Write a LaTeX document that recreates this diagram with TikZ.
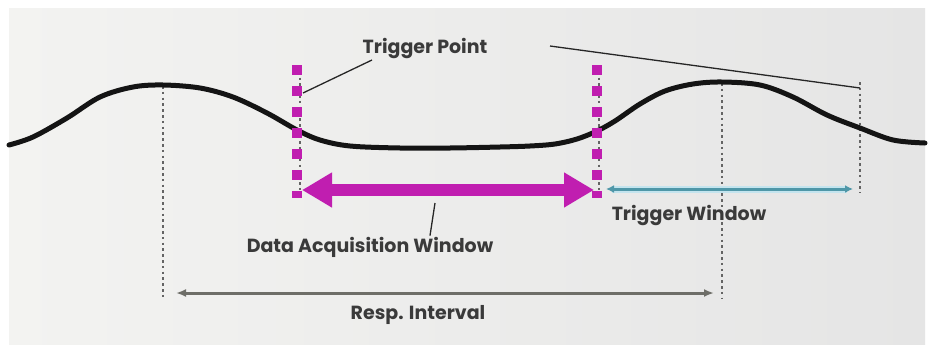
\documentclass[tikz,border=0pt]{standalone}
\usepackage{fontspec}
\setmainfont{Poppins}
\usetikzlibrary{arrows.meta}
\definecolor{paperL}{HTML}{F3F3F1}
\definecolor{paperR}{HTML}{E5E5E5}
\definecolor{mag}{HTML}{C01EB0}
\definecolor{teal}{HTML}{4F97A8}
\definecolor{tealhalo}{HTML}{C4E4EE}
\definecolor{dotgrey}{HTML}{646464}
\definecolor{arrgrey}{HTML}{6E6E68}
\definecolor{txt}{HTML}{3A3A3A}
\tikzset{
  wave/.style={line width=5pt, line cap=round, black!92},
  dotline/.style={dotgrey, line width=2.6pt, dash pattern=on 2.6pt off 3.2pt},
  magdash/.style={mag, line width=10pt, dash pattern=on 10pt off 11pt},
  magarrow/.style={mag, line width=12pt, {Triangle[length=30pt,width=33pt]}-{Triangle[length=30pt,width=33pt]}},
  tealarrow/.style={teal, line width=3pt, {Latex[length=8pt,width=8pt]}-{Latex[length=8pt,width=8pt]}},
  greyarrow/.style={arrgrey, line width=3pt, {Latex[length=10pt,width=8pt]}-{Latex[length=10pt,width=8pt]}},
  leader/.style={black!85, line width=1.3pt},
  lbl/.style={text=txt, font=\fontsize{19}{22}\selectfont\bfseries, inner sep=1pt}
}
\begin{document}
\begin{tikzpicture}[x=1pt,y=-1pt]
\useasboundingbox (0,0) rectangle (929,351);
\fill[white] (0,0) rectangle (929,351);
\shade[left color=paperL, right color=paperR] (9,8) rectangle (925,344);
% dotted guide lines
\draw[dotline] (163,86) -- (163,300);
\draw[dotline] (722,83) -- (722,298);
\draw[dotline] (860,82) -- (860,193);
\draw[dotline, line width=1.8pt] (300,66) -- (300,193);
\draw[dotline, line width=1.8pt] (599,66) -- (599,193);
% waveform
\draw[wave] plot[smooth, tension=0.55] coordinates {
 (9,145) (33,137) (67,118) (100,97) (133,87) (163,85) (200,88) (233,97)
 (267,113) (297,130) (320,140) (350,146) (400,148) (450,148) (500,147)
 (530,146) (555,144) (577,139)
 (597,131) (615,121) (640,104) (665,91) (693,84) (722,82) (760,85)
 (793,97) (827,115) (860,128) (893,140) (925,143)};
% magenta window bounds
\draw[magdash] (297,65) -- (297,198);
\draw[magdash] (597,65) -- (597,198);
% coordinates
\coordinate (daL) at (302,190);
\coordinate (daR) at (594,190);
\coordinate (twL) at (606,189);
\coordinate (twR) at (853,189);
\coordinate (riL) at (176,293);
\coordinate (riR) at (714,293);
\coordinate (tpEnd) at (303,93);
\coordinate (slA) at (550,46);
\coordinate (slB) at (860,88);
\coordinate (daTop) at (435,203);
% labels
\node[lbl] (tp) at (425,49) {Trigger Point};
\node[lbl] (daw) at (370,247) {Data Acquisition Window};
\node[lbl] (tw) at (689,215) {Trigger Window};
\node[lbl] (ri) at (418,315) {Resp. Interval};
% arrows
\draw[magarrow] (daL) -- (daR);
\draw[tealhalo, line width=7pt] ([xshift=6pt]twL) -- ([xshift=-6pt]twR);
\draw[tealarrow] (twL) -- (twR);
\draw[greyarrow] (riL) -- (riR);
% leaders
\coordinate (tpS) at (372,60);
\draw[leader] (tpS) -- (tpEnd);
\draw[leader] (slA) -- (slB);
\draw[leader] (daTop) -- (daw.north -| 430,0);
\end{tikzpicture}
\end{document}
